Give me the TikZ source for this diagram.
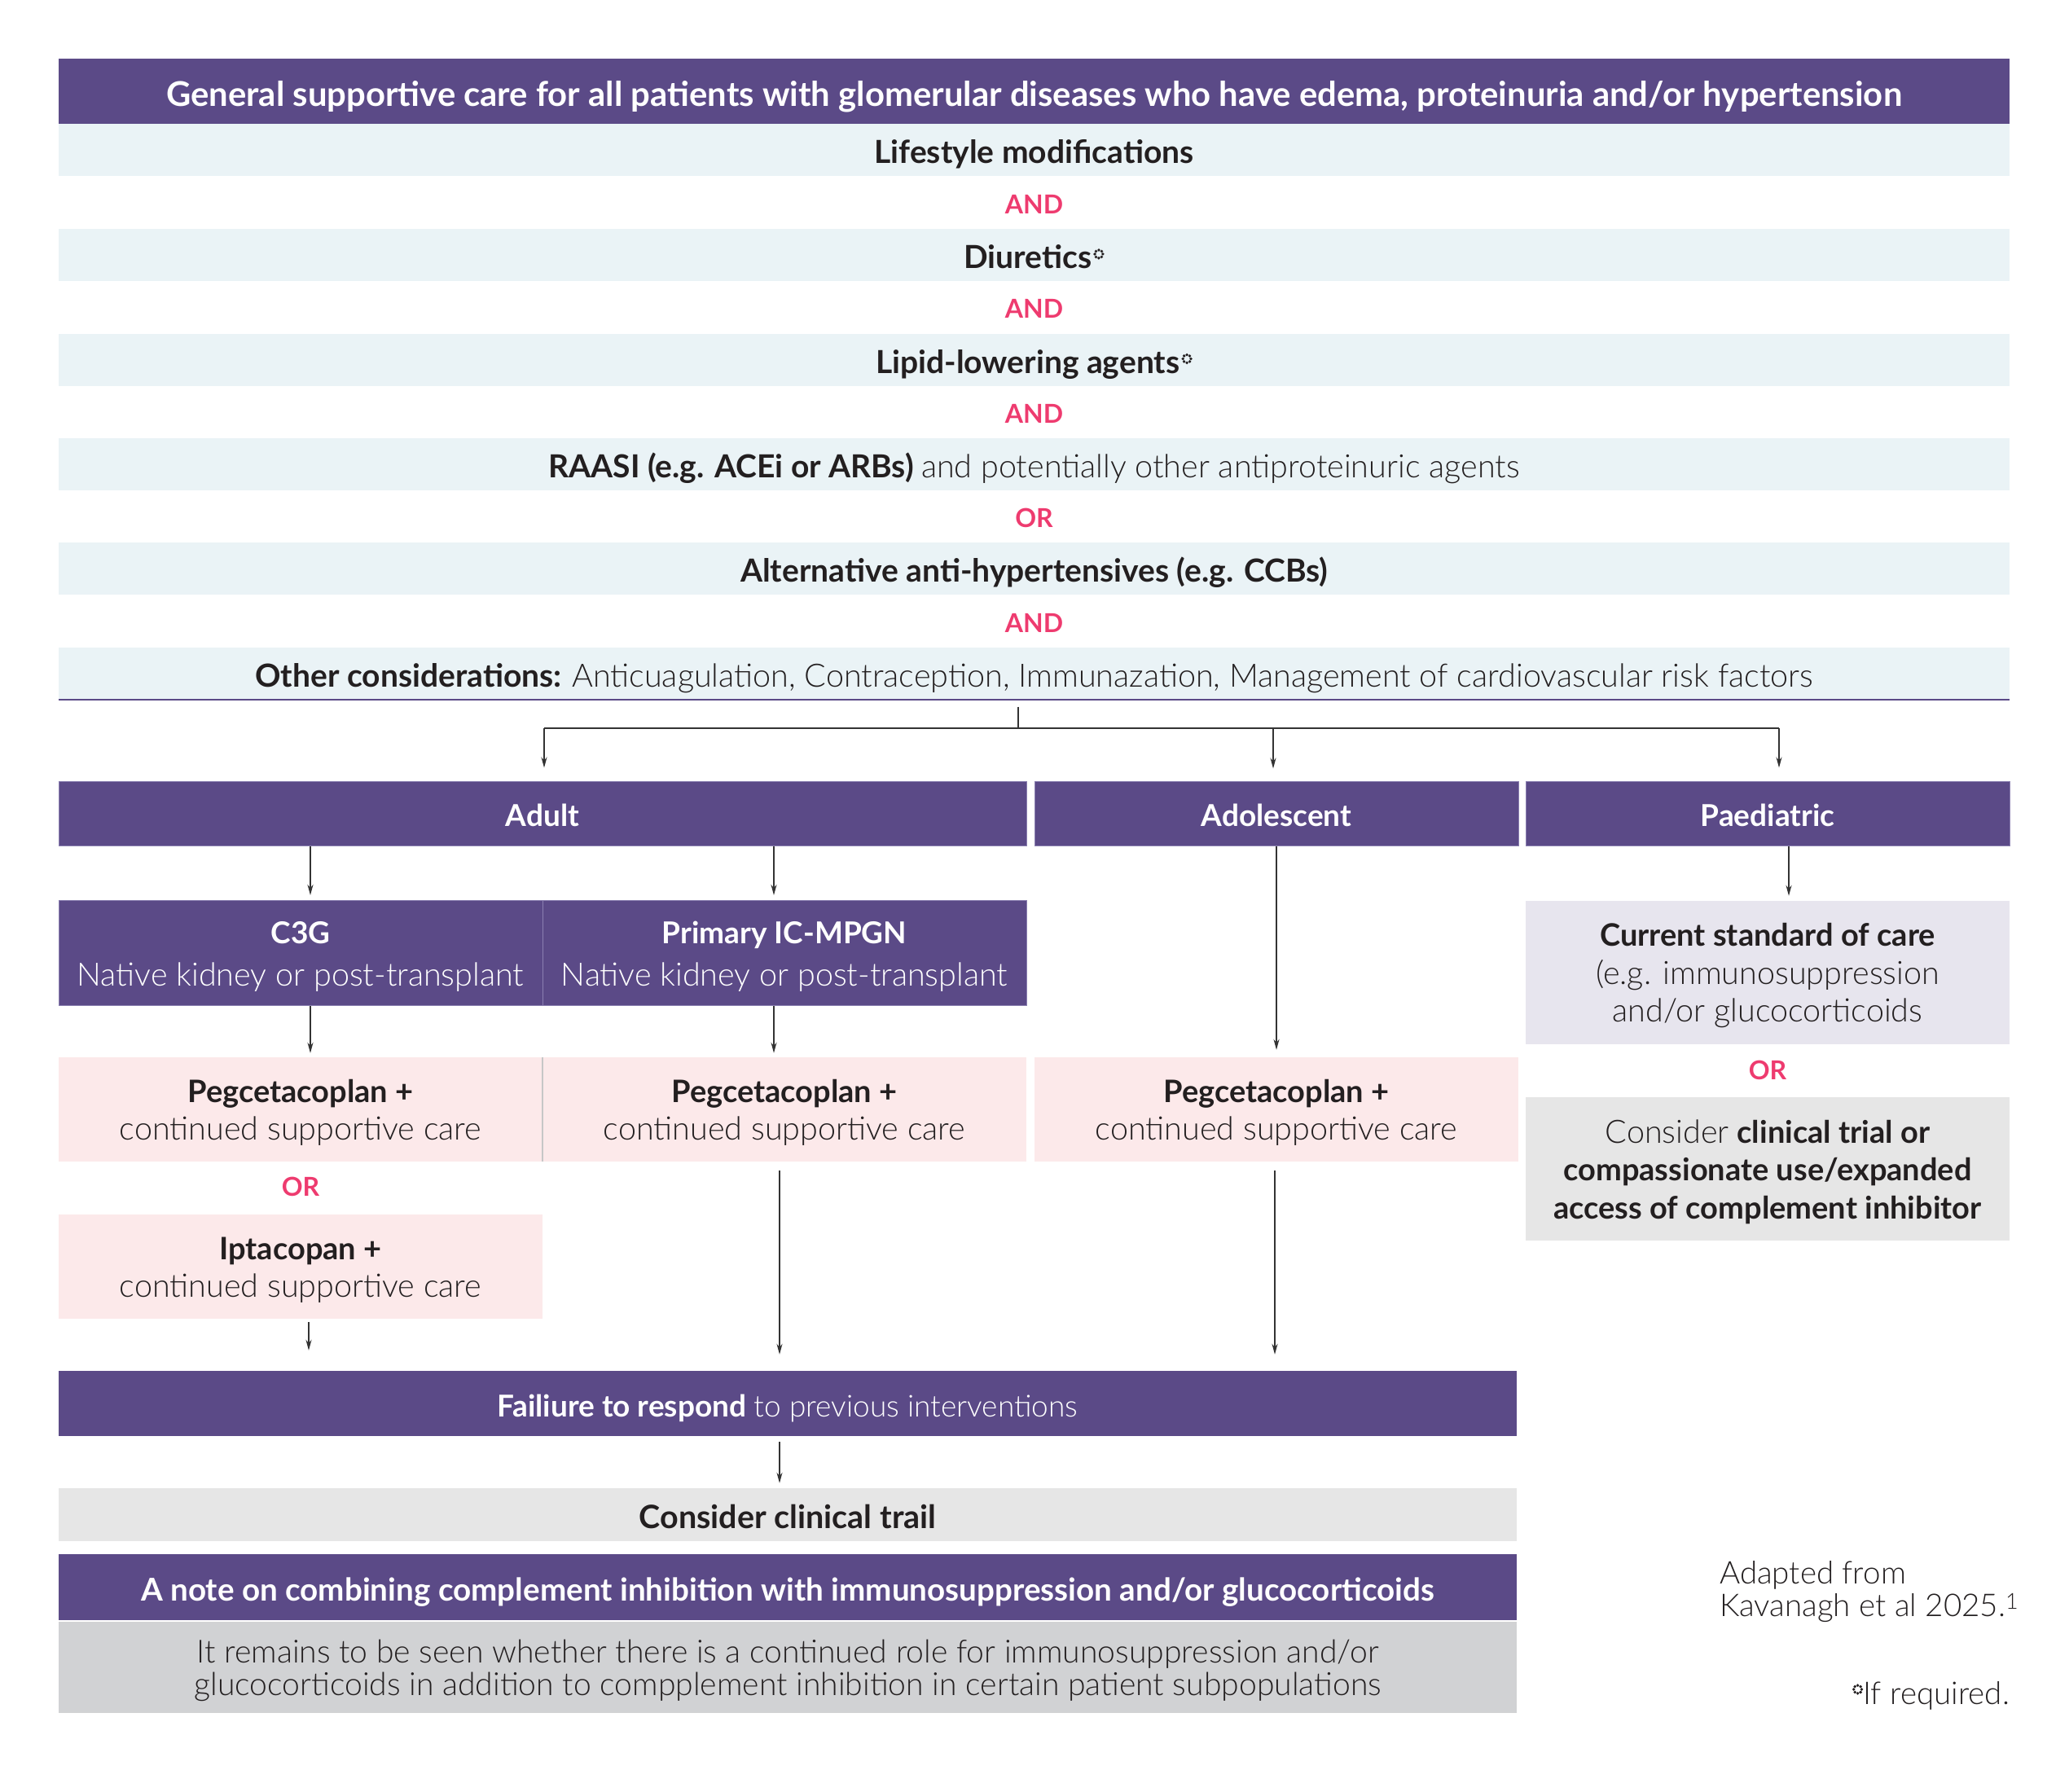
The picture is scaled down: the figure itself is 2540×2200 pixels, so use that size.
\documentclass[tikz,border=0pt]{standalone}
\usepackage{fontspec}
\setmainfont{Lato}
\IfFontExistsTF{Lato Light}{\newfontfamily\latolight{Lato Light}}{\newfontfamily\latolight{Lato}}
\newcommand{\lt}{\latolight\mdseries}
\usetikzlibrary{arrows.meta,calc}
\definecolor{purp}{HTML}{5B4A87}
\definecolor{purpedge}{HTML}{8A7FB0}
\definecolor{bandc}{HTML}{EAF3F6}
\definecolor{pinkc}{HTML}{FCE9EA}
\definecolor{lavc}{HTML}{E7E5EE}
\definecolor{greyc}{HTML}{E6E6E6}
\definecolor{notec}{HTML}{D1D2D4}
\definecolor{txt}{HTML}{231F20}
\definecolor{orpink}{HTML}{EE3B6F}
\definecolor{linec}{HTML}{333333}
\newcommand{\dring}{\hspace{2pt}\tikz[baseline=-18pt]{\foreach \a in {0,45,...,315}{\fill[txt] (\a:4.9pt) circle (1.9pt);}}}
\newcommand{\bfnt}[1]{{\fontsize{38}{46}\selectfont\bfseries #1}}
\newcommand{\lfnt}[1]{{\fontsize{39.5}{46}\selectfont\lt #1}}
\newcommand{\bandlt}[1]{{\fontsize{39.5}{46}\selectfont\lt #1}}
\newcommand{\tstrut}{\rule{0pt}{36pt}}
\begin{document}
\begin{tikzpicture}[x=1pt,y=-1pt,
  bandbox/.style={fill=bandc, minimum width=2395pt, minimum height=64pt, inner sep=0pt, text=txt,
    font=\fontsize{39}{46}\selectfont\bfseries, text height=33.9pt, text depth=0pt},
  hdrbox/.style={fill=purp, minimum width=2395pt, minimum height=80pt, inner sep=0pt, text=white,
    font=\fontsize{41.8}{50}\selectfont\bfseries, text height=36pt, text depth=0pt},
  conj/.style={text=orpink, inner sep=0pt, font=\fontsize{32}{38}\selectfont\bfseries, text height=22.9pt, text depth=0pt},
  purpbox/.style={fill=purp, draw=purpedge, line width=1pt, inner sep=0pt, text=white,
    font=\fontsize{37}{52.5}\selectfont\bfseries, align=center},
  pinkbox/.style={fill=pinkc, inner sep=0pt, text=txt, minimum width=594pt, minimum height=128pt,
    font=\fontsize{39.5}{46}\selectfont, align=center},
  greybox/.style={inner sep=0pt, text=txt, minimum width=594pt, minimum height=176pt,
    font=\fontsize{39}{46.5}\selectfont, align=center},
  widebox/.style={inner sep=0pt, minimum width=1790pt, font=\fontsize{37}{38}\selectfont, align=center},
  foot/.style={inner sep=0pt, text=txt, font=\fontsize{38.5}{40}\selectfont\lt},
  conn/.style={draw=linec, line width=1.8pt},
  arr/.style={conn, -{Stealth[length=13pt,width=7pt]}}
]
\useasboundingbox (0,0) rectangle (2540,2200);

% top block
\node[hdrbox] (hdr) at (1269.5,112) {General supportive care for all patients with glomerular diseases who have edema, proteinuria and/or hypertension};
\node[bandbox] (life) at (1269.5,184) {Lifestyle modifications};
\node[conj] (and1) at (1269.5,251) {AND};
\node[bandbox] (diur) at (1269.5,313) {Diuretics\dring};
\node[conj] (and2) at (1269.5,379) {AND};
\node[bandbox] (lipid) at (1269.5,441.5) {Lipid-lowering agents\dring};
\node[conj] (and3) at (1269.5,508) {AND};
\node[bandbox] (raasi) at (1269.5,570) {RAASI (e.g. ACEi or ARBs) \bandlt{and potentially other antiproteinuric agents}};
\node[conj] (or1) at (1269.5,636) {OR};
\node[bandbox] (alt) at (1269.5,698) {Alternative anti-hypertensives (e.g. CCBs)};
\node[conj] (and4) at (1269.5,765) {AND};
\node[bandbox] (other) at (1269.5,826.5) {Other considerations: \bandlt{Anticuagulation, Contraception, Immunazation, Management of cardiovascular risk factors}};
\draw[purp, line width=2pt] (other.south west) -- (other.south east);

% age groups
\node[purpbox, minimum width=1188pt, minimum height=79pt, text height=32.5pt, text depth=0pt] (adult) at (666,998.5) {Adult};
\node[purpbox, minimum width=594pt, minimum height=79pt, text height=32.5pt, text depth=0pt] (adol) at (1567,998.5) {Adolescent};
\node[purpbox, minimum width=594pt, minimum height=79pt, text height=32.5pt, text depth=0pt] (paed) at (2170,998.5) {Paediatric};

% adult branches
\node[purpbox, minimum width=594pt, minimum height=129pt] (c3g) at (369,1170) {\tstrut C3G\\\lfnt{Native kidney or post-transplant}};
\node[purpbox, minimum width=594pt, minimum height=129pt] (ic) at (963,1170) {\tstrut Primary IC-MPGN\\\lfnt{Native kidney or post-transplant}};
\node[pinkbox] (peg1) at (369,1362) {\tstrut\bfnt{Pegcetacoplan +}\\\lfnt{continued supportive care}};
\node[pinkbox] (peg2) at (963,1362) {\tstrut\bfnt{Pegcetacoplan +}\\\lfnt{continued supportive care}};
\draw[draw=black!22, line width=1.5pt] (peg1.north east) -- (peg1.south east);
\node[conj] (or2) at (369,1457) {OR};
\node[pinkbox] (ipt) at (369,1555) {\tstrut\bfnt{Iptacopan +}\\\lfnt{continued supportive care}};

% adolescent
\node[pinkbox] (peg3) at (1567,1362) {\tstrut\bfnt{Pegcetacoplan +}\\\lfnt{continued supportive care}};

% paediatric
\node[greybox, fill=lavc] (csc) at (2170,1194) {\tstrut\bfnt{Current standard of care}\\\lfnt{(e.g. immunosuppression}\\\lfnt{and/or glucocorticoids}};
\node[conj] (or3) at (2170,1314) {OR};
\node[greybox, fill=greyc] (cons) at (2170,1435) {\tstrut\lfnt{Consider} \bfnt{clinical trial or}\\\bfnt{compassionate use/expanded}\\\bfnt{access of complement inhibitor}};

% bottom
\node[widebox, fill=purp, text=white, minimum height=80pt, text height=32.5pt, text depth=0pt] (fail) at (967,1723) {\textbf{Failiure to respond} {\lt to previous interventions}};
\node[widebox, fill=greyc, text=txt, minimum height=65pt, text height=34pt, text depth=0pt, font=\fontsize{39.5}{40}\selectfont\bfseries] (ctr) at (967,1859.5) {Consider clinical trail};
\node[widebox, fill=purp, text=white, minimum height=81pt, text height=33.5pt, text depth=0pt, font=\fontsize{38.6}{40}\selectfont\bfseries] (noteh) at (967,1948.5) {A note on combining complement inhibition with immunosuppression and/or glucocorticoids};
\node[widebox, fill=notec, text=txt, minimum height=112pt, font=\fontsize{39.1}{40.5}\selectfont\lt] (noteb) at (967,2047) {\tstrut It remains to be seen whether there is a continued role for immunosuppression and/or\\glucocorticoids in addition to compplement inhibition in certain patient subpopulations};

\node[foot, anchor=north west, align=left] (adapt) at (2111,1916) {Adapted from\\Kavanagh et al 2025.\textsuperscript{1}};
\node[foot, anchor=base east] (ifreq) at (2467,2092) {\dring If required.};

% connectors
\coordinate (split) at ($(other.south)+(-19.5,35)$);
\draw[conn] ($(other.south)+(-19.5,9)$) -- (split);
\coordinate (jA) at ($(split -| adult.north)+(2,0)$);
\coordinate (jP) at ($(split -| paed.north)+(14,0)$);
\coordinate (jD) at ($(split -| adol.north)+(-4,0)$);
\draw[conn] (jA) -- (jP);
\draw[arr] (jA) -- ($(jA |- adult.north)+(0,-16)$);
\draw[arr] (jD) -- ($(jD |- adol.north)+(0,-15)$);
\draw[arr] (jP) -- ($(jP |- paed.north)+(0,-16)$);

\draw[arr] ($(adult.south -| c3g.north)+(12,0)$) -- ($(c3g.north)+(12,-6)$);
\draw[arr] ($(adult.south -| ic.north)+(-13,0)$) -- ($(ic.north)+(-13,-6)$);
\draw[arr] ($(c3g.south)+(12,0)$) -- ($(peg1.north)+(12,-5)$);
\draw[arr] ($(ic.south)+(-13,0)$) -- ($(peg2.north)+(-13,-5)$);
\draw[arr] (adol.south) -- ($(peg3.north)+(0,-9)$);
\draw[arr] ($(paed.south -| csc.north)+(26,0)$) -- ($(csc.north)+(26,-6)$);

\draw[arr] ($(ipt.south)+(10,4)$) -- ($(ipt.south |- fail.north)+(10,-25)$);
\draw[arr] ($(peg2.south)+(-6,11)$) -- ($(peg2.south |- fail.north)+(-6,-20)$);
\draw[arr] ($(peg3.south)+(-2,11)$) -- ($(peg3.south |- fail.north)+(-2,-20)$);
\draw[arr] ($(fail.south)+(-10,7)$) -- ($(ctr.north)+(-10,-6)$);
\end{tikzpicture}
\end{document}
